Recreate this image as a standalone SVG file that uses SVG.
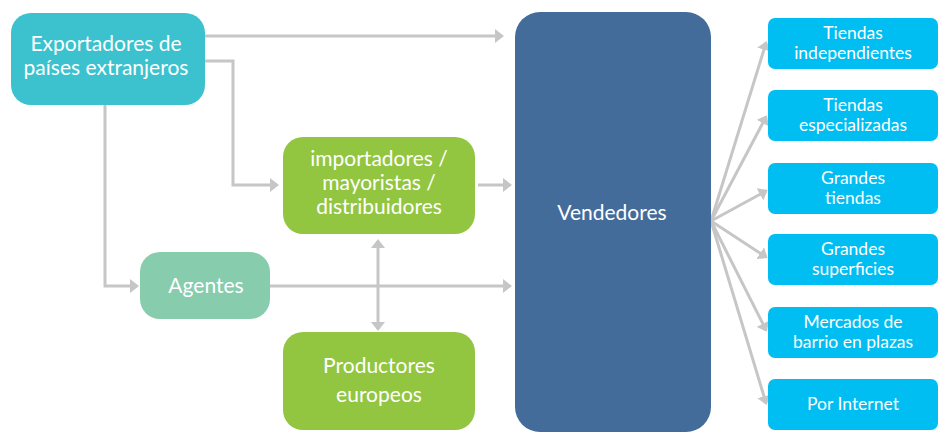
<svg xmlns="http://www.w3.org/2000/svg" width="939" height="433" viewBox="0 0 939 433">
<style>
text{font-family:Lato,"Open Sans","DejaVu Sans",sans-serif;fill:#ffffff;text-anchor:middle}
.t22{font-size:21px}
.t20{font-size:17.5px}
.conn{fill:none;stroke:#c6c6c6;stroke-width:3}
.exp{fill:#3bc2ce}
.grn{fill:#92c640}
.agt{fill:#88ccae}
.ven{fill:#436c9b}
.ret{fill:#00bef2}
</style>
<defs>
<marker id="ah" markerUnits="userSpaceOnUse" markerWidth="12" markerHeight="14" refX="7" refY="7" orient="auto-start-reverse" viewBox="0 0 12 14">
<path d="M0,0 L9,7 L0,14 z" fill="#c6c6c6"/>
</marker>
</defs>
<g id="connectors">
<path class="conn" d="M205,36 H502" marker-end="url(#ah)"/>
<path class="conn" d="M205,61 H233 V185 H277" marker-end="url(#ah)"/>
<path class="conn" d="M105,105 V286 H137" marker-end="url(#ah)"/>
<path class="conn" d="M478,185 H510" marker-end="url(#ah)"/>
<path class="conn" d="M270,286 H510" marker-end="url(#ah)"/>
<path class="conn" d="M378,241 V329" marker-start="url(#ah)" marker-end="url(#ah)"/>
<path class="conn" d="M711,221 L766,43" marker-end="url(#ah)"/>
<path class="conn" d="M711,221 L766,117" marker-end="url(#ah)"/>
<path class="conn" d="M711,221 L766,191" marker-end="url(#ah)"/>
<path class="conn" d="M711,221 L766,257" marker-end="url(#ah)"/>
<path class="conn" d="M711,221 L766,330" marker-end="url(#ah)"/>
<path class="conn" d="M711,221 L766,403" marker-end="url(#ah)"/>
</g>
<g id="exportadores">
<rect class="exp" x="11" y="13" width="194" height="92" rx="20"/>
<text class="t22" x="106" y="51">Exportadores de</text>
<text class="t22" x="106" y="75">países extranjeros</text>
</g>
<g id="importadores">
<rect class="grn" x="283" y="137" width="192" height="97" rx="20"/>
<text class="t22" x="379" y="166">importadores /</text>
<text class="t22" x="379" y="190">mayoristas /</text>
<text class="t22" x="379" y="214">distribuidores</text>
</g>
<g id="agentes">
<rect class="agt" x="140" y="252" width="130" height="67" rx="20"/>
<text class="t22" x="206" y="293">Agentes</text>
</g>
<g id="productores">
<rect class="grn" x="283" y="332" width="192" height="98" rx="20"/>
<text class="t22" x="379" y="373">Productores</text>
<text class="t22" x="379" y="402">europeos</text>
</g>
<g id="vendedores">
<rect class="ven" x="515" y="12" width="196" height="420" rx="25"/>
<text class="t22" x="612" y="220">Vendedores</text>
</g>
<g id="tiendas-independientes">
<rect class="ret" x="768" y="18" width="170" height="51" rx="7"/>
<text class="t20" x="853" y="39">Tiendas</text>
<text class="t20" x="853" y="59">independientes</text>
</g>
<g id="tiendas-especializadas">
<rect class="ret" x="768" y="90" width="170" height="51" rx="7"/>
<text class="t20" x="853" y="111">Tiendas</text>
<text class="t20" x="853" y="131">especializadas</text>
</g>
<g id="grandes-tiendas">
<rect class="ret" x="768" y="163" width="170" height="51" rx="7"/>
<text class="t20" x="853" y="184">Grandes</text>
<text class="t20" x="853" y="204">tiendas</text>
</g>
<g id="grandes-superficies">
<rect class="ret" x="768" y="234" width="170" height="51" rx="7"/>
<text class="t20" x="853" y="255">Grandes</text>
<text class="t20" x="853" y="275">superficies</text>
</g>
<g id="mercados">
<rect class="ret" x="768" y="307" width="170" height="51" rx="7"/>
<text class="t20" x="853" y="328">Mercados de</text>
<text class="t20" x="853" y="348">barrio en plazas</text>
</g>
<g id="por-internet">
<rect class="ret" x="768" y="379" width="170" height="51" rx="7"/>
<text class="t20" x="853" y="410">Por Internet</text>
</g>
</svg>
